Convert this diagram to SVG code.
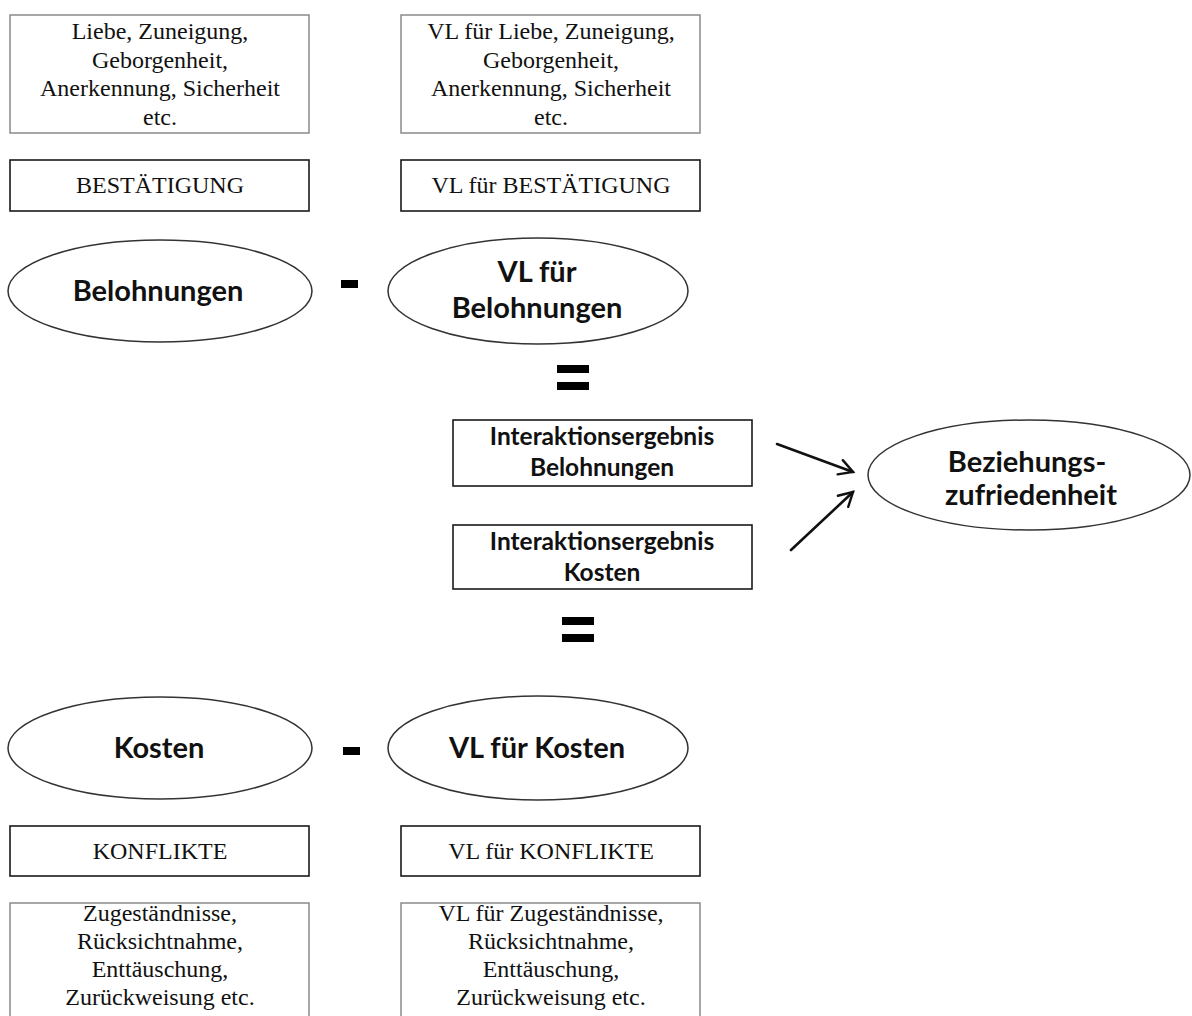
<svg xmlns="http://www.w3.org/2000/svg" width="1192" height="1016" viewBox="0 0 1192 1016">
  <style>
    .list { fill: #fff; stroke: #8a8a8a; stroke-width: 1.5; }
    .cat { fill: #fff; stroke: #1a1a1a; stroke-width: 1.6; }
    .oval { fill: #fff; stroke: #333; stroke-width: 1.5; }
    .serif { font-family: "Liberation Serif", "Times New Roman", serif; font-size: 24px; fill: #111; text-anchor: middle; }
    .bold { font-family: Lato, "Liberation Sans", sans-serif; font-weight: bold; fill: #111; text-anchor: middle; }
    .big { font-size: 29px; }
    .mid { font-size: 24.5px; }
    .op { fill: #000; }
    .conn { stroke: #111; stroke-width: 2.6; fill: none; stroke-linecap: round; }
  </style>
  <defs>
    <marker id="head" viewBox="0 0 12 12" refX="10" refY="6" markerWidth="7" markerHeight="7" orient="auto" markerUnits="strokeWidth">
      <path d="M1,1 L10,6 L1,11" fill="none" stroke="#111" stroke-width="1.6" stroke-linecap="round" stroke-linejoin="miter"/>
    </marker>
  </defs>

  <rect width="1192" height="1016" fill="#fff"/>

  <!-- reward side: examples -->
  <g id="belohnung-beispiele">
    <rect class="list" x="10" y="15" width="299" height="118"/>
    <text class="serif" x="160" y="39">Liebe, Zuneigung,</text>
    <text class="serif" x="160" y="68">Geborgenheit,</text>
    <text class="serif" x="160" y="96">Anerkennung, Sicherheit</text>
    <text class="serif" x="160" y="125">etc.</text>
  </g>
  <g id="vl-belohnung-beispiele">
    <rect class="list" x="401" y="15" width="299" height="118"/>
    <text class="serif" x="551" y="39">VL für Liebe, Zuneigung,</text>
    <text class="serif" x="551" y="68">Geborgenheit,</text>
    <text class="serif" x="551" y="96">Anerkennung, Sicherheit</text>
    <text class="serif" x="551" y="125">etc.</text>
  </g>
  <g id="bestaetigung">
    <rect class="cat" x="10" y="160" width="299" height="51"/>
    <text class="serif" x="160" y="193">BESTÄTIGUNG</text>
  </g>
  <g id="vl-bestaetigung">
    <rect class="cat" x="401" y="160" width="299" height="51"/>
    <text class="serif" x="551" y="193">VL für BESTÄTIGUNG</text>
  </g>

  <!-- reward equation -->
  <g id="belohnungen">
    <ellipse class="oval" cx="160" cy="291" rx="152" ry="51"/>
    <text class="bold big" x="158" y="301">Belohnungen</text>
  </g>
  <rect class="op" x="341" y="280" width="17" height="8"/>
  <g id="vl-belohnungen">
    <ellipse class="oval" cx="538" cy="291" rx="150" ry="53"/>
    <text class="bold big" x="537" y="282">VL für</text>
    <text class="bold big" x="537" y="318">Belohnungen</text>
  </g>
  <rect class="op" x="557" y="365" width="32" height="8"/>
  <rect class="op" x="557" y="382" width="32" height="8"/>

  <!-- outcomes -->
  <g id="ergebnis-belohnungen">
    <rect class="cat" x="453" y="420" width="299" height="66"/>
    <text class="bold mid" x="602" y="445">Interaktionsergebnis</text>
    <text class="bold mid" x="602" y="476">Belohnungen</text>
  </g>
  <g id="ergebnis-kosten">
    <rect class="cat" x="453" y="525" width="299" height="64"/>
    <text class="bold mid" x="602" y="550">Interaktionsergebnis</text>
    <text class="bold mid" x="602" y="581">Kosten</text>
  </g>
  <g id="zufriedenheit">
    <ellipse class="oval" cx="1029" cy="475" rx="161" ry="55"/>
    <text class="bold big" x="1027" y="472">Beziehungs-</text>
    <text class="bold big" x="1031" y="505">zufriedenheit</text>
  </g>

  <g id="connectors">
    <line class="conn" x1="777" y1="444" x2="853" y2="472" marker-end="url(#head)"/>
    <line class="conn" x1="791" y1="550" x2="853" y2="492" marker-end="url(#head)"/>
  </g>

  <rect class="op" x="562" y="617" width="32" height="8"/>
  <rect class="op" x="562" y="634" width="32" height="8"/>

  <!-- cost equation -->
  <g id="kosten">
    <ellipse class="oval" cx="160" cy="748" rx="152" ry="51"/>
    <text class="bold big" x="159" y="758">Kosten</text>
  </g>
  <rect class="op" x="343" y="747" width="17" height="8"/>
  <g id="vl-kosten">
    <ellipse class="oval" cx="538" cy="748" rx="150" ry="52"/>
    <text class="bold big" x="537" y="758">VL für Kosten</text>
  </g>

  <g id="konflikte">
    <rect class="cat" x="10" y="826" width="299" height="50"/>
    <text class="serif" x="160" y="859">KONFLIKTE</text>
  </g>
  <g id="vl-konflikte">
    <rect class="cat" x="401" y="826" width="299" height="50"/>
    <text class="serif" x="551" y="859">VL für KONFLIKTE</text>
  </g>

  <!-- cost side: examples -->
  <g id="kosten-beispiele">
    <rect class="list" x="10" y="903" width="299" height="130"/>
    <text class="serif" x="160" y="921">Zugeständnisse,</text>
    <text class="serif" x="160" y="949">Rücksichtnahme,</text>
    <text class="serif" x="160" y="977">Enttäuschung,</text>
    <text class="serif" x="160" y="1005">Zurückweisung etc.</text>
  </g>
  <g id="vl-kosten-beispiele">
    <rect class="list" x="401" y="903" width="299" height="130"/>
    <text class="serif" x="551" y="921">VL für Zugeständnisse,</text>
    <text class="serif" x="551" y="949">Rücksichtnahme,</text>
    <text class="serif" x="551" y="977">Enttäuschung,</text>
    <text class="serif" x="551" y="1005">Zurückweisung etc.</text>
  </g>
</svg>
